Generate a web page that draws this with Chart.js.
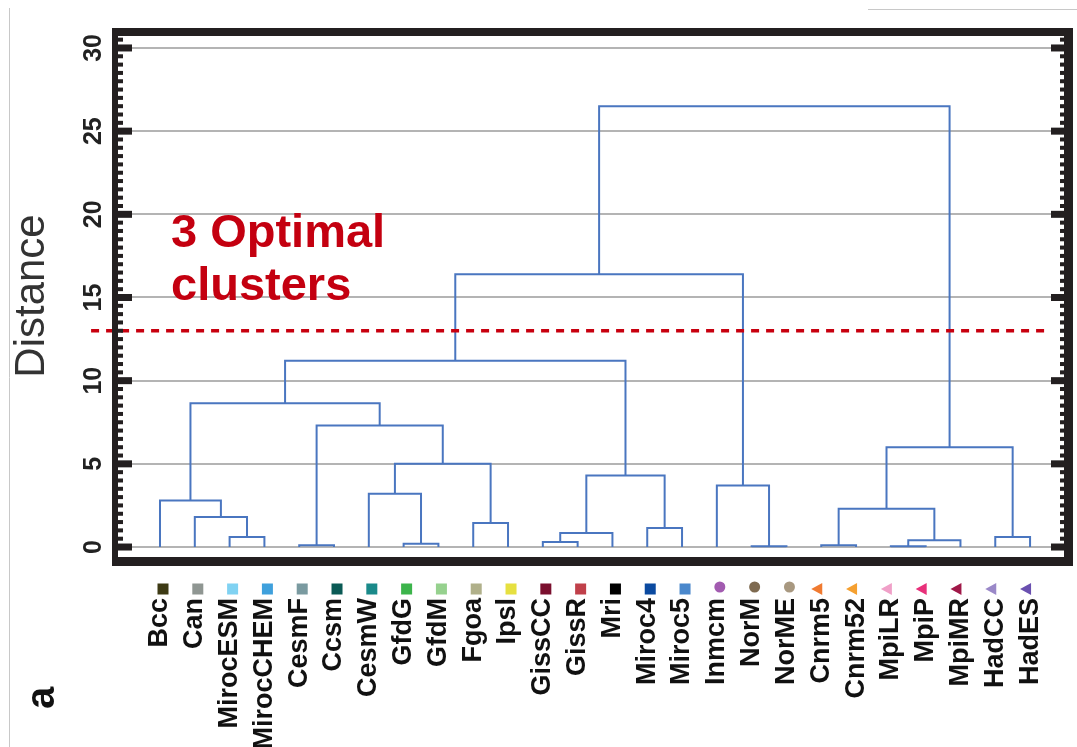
<!DOCTYPE html>
<html>
<head>
<meta charset="utf-8">
<script src="https://cdn.jsdelivr.net/npm/chart.js@4.4.1/dist/chart.umd.min.js"></script>
<style>
  html, body { margin: 0; padding: 0; background: #fff; }
  #wrap { width: 1077px; height: 747px; }
</style>
</head>
<body>
<div id="wrap"><canvas id="dendro" width="1077" height="747"></canvas></div>
<script>
// leaves, in the order they sit along the bottom
const leafLabels = ['Bcc', 'Can', 'MirocESM', 'MirocCHEM', 'CesmF', 'Ccsm', 'CesmW', 'GfdG', 'GfdM',
  'Fgoa', 'Ipsl', 'GissCC', 'GissR', 'Mri', 'Miroc4', 'Miroc5', 'Inmcm', 'NorM', 'NorME',
  'Cnrm5', 'Cnrm52', 'MpiLR', 'MpiP', 'MpiMR', 'HadCC', 'HadES'];
const markerColors = ['#3d3a14', '#8f9692', '#80d2f2', '#3fa0dc', '#7a9aa0', '#0a5a55', '#1a8a8a', '#3cb44b', '#96d18e',
  '#b0b08a', '#e6e040', '#7a0f2e', '#c0404a', '#000000', '#0b4aa0', '#4a88cc', '#a25bb0', '#7e6a50', '#a89880',
  '#f07a30', '#f5a030', '#f0a0c8', '#e8307a', '#a01848', '#9a88c8', '#6a50b0'];
// s = square, c = circle, t = triangle
const markerShapes = ['s', 's', 's', 's', 's', 's', 's', 's', 's', 's', 's', 's', 's', 's', 's', 's',
  'c', 'c', 'c', 't', 't', 't', 't', 't', 't', 't'];

// linkage: ids 0..25 are leaves, merge k makes node 26 + k
const mergeLeft   = [17, 21, 4, 19, 7, 11, 27, 24, 2, 31, 14, 9, 1, 29, 0, 6, 16, 35, 41, 39, 28, 40, 47, 48, 49];
const mergeRight  = [18, 22, 5, 20, 8, 12, 23, 25, 3, 13, 15, 10, 34, 32, 38, 30, 26, 36, 37, 33, 44, 46, 43, 42, 45];
const mergeHeight = [0.05, 0.05, 0.1, 0.1, 0.2, 0.3, 0.4, 0.6, 0.6, 0.85, 1.15, 1.45, 1.8, 2.3, 2.8, 3.2, 3.7,
  4.3, 5.0, 6.0, 7.3, 8.65, 11.2, 16.4, 26.5];

const yTicks = [0, 5, 10, 15, 20, 25, 30];
const cutHeight = 13;

const FONT = "'Liberation Sans', Arial, sans-serif";
const linkColor = '#4a76c0';
const frameColor = '#231f20';

// build the U-shaped links from the linkage
const nodeX = leafLabels.map((_, i) => i);
const nodeH = leafLabels.map(() => 0);
const links = mergeLeft.map((a, k) => {
  const b = mergeRight[k];
  const h = mergeHeight[k];
  nodeX.push((nodeX[a] + nodeX[b]) / 2);
  nodeH.push(h);
  return [
    { x: nodeX[a], y: nodeH[a] },
    { x: nodeX[a], y: h },
    { x: nodeX[b], y: h },
    { x: nodeX[b], y: nodeH[b] },
  ];
});

const datasets = [
  {
    // cut line, runs a bit past the left frame
    data: [{ x: -1.98, y: cutHeight }, { x: 25.52, y: cutHeight }],
    borderColor: '#c8000f',
    borderWidth: 3.5,
    borderDash: [8, 7],
    clip: false,
  },
].concat(links.map((data) => ({
  data,
  borderColor: linkColor,
  borderWidth: 2,
})));

// frame, inward ticks, leaf markers and loose text
const decorations = {
  id: 'decorations',
  afterDraw(chart) {
    const { ctx, chartArea: area, scales: { x, y } } = chart;
    ctx.save();

    // faint edges from the source figure
    ctx.strokeStyle = '#c8c8c8';
    ctx.lineWidth = 1;
    ctx.beginPath();
    ctx.moveTo(9.5, 8); ctx.lineTo(9.5, 747);
    ctx.moveTo(868, 9.5); ctx.lineTo(1077, 9.5);
    ctx.stroke();

    // ticks every 0.5, long ones at multiples of 5
    ctx.fillStyle = frameColor;
    for (let v = 0; v <= y.max; v += 0.5) {
      const py = y.getPixelForValue(v);
      const major = v % 5 === 0;
      const len = major ? 17 : 8;
      const th = major ? 7 : 4;
      ctx.fillRect(area.left, py - th / 2, len, th);
      ctx.fillRect(area.right - len, py - th / 2, len, th);
    }

    // thick frame
    ctx.fillRect(area.left - 3, area.top - 4, area.right - area.left + 7, 8);
    ctx.fillRect(area.left - 3, area.bottom - 3, area.right - area.left + 7, 9);
    ctx.fillRect(area.left - 3, area.top - 4, 6, area.bottom - area.top + 10);
    ctx.fillRect(area.right - 4, area.top - 4, 9, area.bottom - area.top + 10);

    // leaf markers
    const my = area.bottom + 29;
    leafLabels.forEach((_, i) => {
      const px = x.getPixelForValue(i);
      ctx.fillStyle = markerColors[i];
      if (markerShapes[i] === 's') {
        ctx.fillRect(px - 2.5, my - 5.5, 11, 11);
      } else if (markerShapes[i] === 'c') {
        ctx.beginPath();
        ctx.arc(px + 3, my - 2, 5.5, 0, Math.PI * 2);
        ctx.fill();
      } else {
        ctx.beginPath();
        ctx.moveTo(px + 1, my - 6);
        ctx.lineTo(px + 1, my + 6);
        ctx.lineTo(px - 10, my);
        ctx.closePath();
        ctx.fill();
      }
    });

    // annotation
    ctx.fillStyle = '#c40010';
    ctx.font = `bold 47px ${FONT}`;
    ctx.textAlign = 'left';
    ctx.textBaseline = 'alphabetic';
    ctx.fillText('3 Optimal', 171, 247);
    ctx.fillText('clusters', 171, 300);

    // panel letter
    ctx.fillStyle = '#111';
    ctx.font = `bold 40px ${FONT}`;
    ctx.translate(43, 698);
    ctx.rotate(-Math.PI / 2);
    ctx.textAlign = 'center';
    ctx.textBaseline = 'middle';
    ctx.fillText('a', 0, 0);

    ctx.restore();
  },
};

const canvas = document.getElementById('dendro');
canvas.chart = new Chart(canvas.getContext('2d'), {
  type: 'line',
  data: { datasets },
  options: {
    responsive: false,
    animation: false,
    events: [],
    layout: { padding: { left: 0, right: 9, top: 32, bottom: 0 } },
    elements: {
      point: { radius: 0 },
      line: { tension: 0, fill: false },
    },
    plugins: {
      legend: { display: false },
      tooltip: { enabled: false },
    },
    scales: {
      x: {
        type: 'linear',
        min: -1.293,
        max: 26.09,
        afterBuildTicks: (scale) => {
          scale.ticks = leafLabels.map((_, i) => ({ value: i }));
        },
        afterFit: (scale) => {
          scale.height = 187;
          scale.paddingLeft = 0;
          scale.paddingRight = 0;
        },
        grid: { display: false, drawTicks: false },
        border: { display: false },
        ticks: {
          autoSkip: false,
          minRotation: 90,
          maxRotation: 90,
          padding: 38,
          color: '#111',
          font: { family: FONT, size: 27, weight: 'bold' },
          callback: (value) => leafLabels[value],
        },
      },
      y: {
        type: 'linear',
        min: -0.78,
        max: 30.96,
        afterBuildTicks: (scale) => {
          scale.ticks = yTicks.map((v) => ({ value: v }));
        },
        afterFit: (scale) => {
          scale.width = 115;
          scale.paddingTop = 0;
          scale.paddingBottom = 0;
        },
        grid: { color: '#b4b4b4', lineWidth: 2, drawTicks: false },
        border: { display: false },
        ticks: {
          autoSkip: false,
          minRotation: 90,
          maxRotation: 90,
          crossAlign: 'center',
          padding: 7,
          color: '#222',
          font: { family: FONT, size: 25, weight: 'bold' },
        },
        title: {
          display: true,
          text: 'Distance',
          color: '#333',
          padding: { top: 7 },
          font: { family: FONT, size: 42 },
        },
      },
    },
  },
  plugins: [decorations],
});
</script>
</body>
</html>
